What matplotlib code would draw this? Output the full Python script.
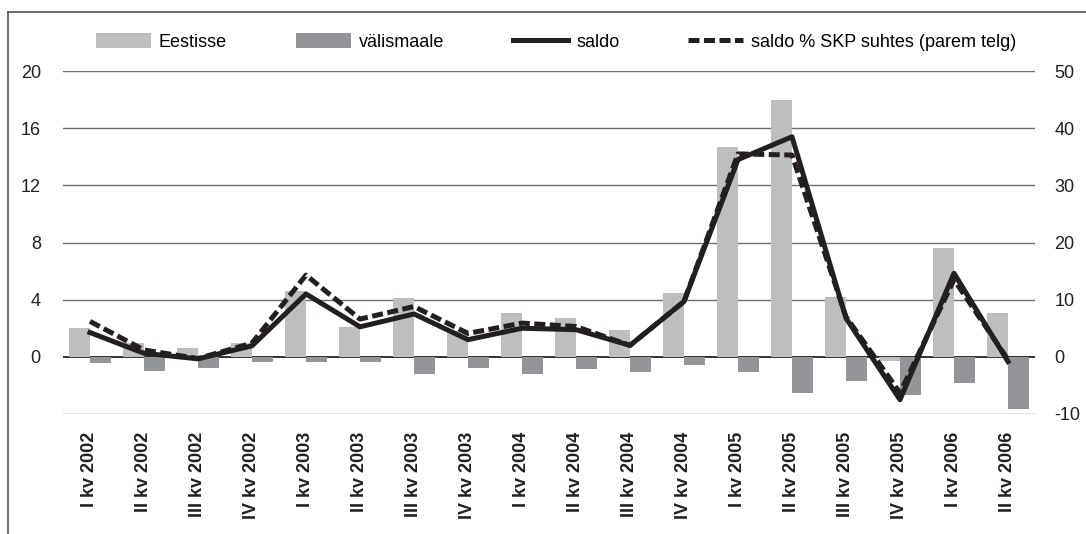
"""
Eesti ja välismaa otseinvesteeringud kvartalite kaupa + saldo.
"""

import numpy as np
import matplotlib.pyplot as plt
from matplotlib.lines import Line2D

plt.rcParams["font.family"] = ["Liberation Sans", "DejaVu Sans"]
plt.rcParams["axes.unicode_minus"] = False

quarters = [
    "I kv 2002", "II kv 2002", "III kv 2002", "IV kv 2002",
    "I kv 2003", "II kv 2003", "III kv 2003", "IV kv 2003",
    "I kv 2004", "II kv 2004", "III kv 2004", "IV kv 2004",
    "I kv 2005", "II kv 2005", "III kv 2005", "IV kv 2005",
    "I kv 2006", "II kv 2006",
]
eestisse = [2.0, 1.0, 0.6, 1.0, 4.6, 2.1, 4.1, 1.8, 3.1, 2.7, 1.9, 4.5,
            14.7, 18.0, 4.2, -0.3, 7.6, 3.1]
valismaale = [-0.45, -1.0, -0.75, -0.33, -0.33, -0.33, -1.17, -0.75, -1.17,
              -0.87, -1.03, -0.6, -1.03, -2.54, -1.72, -2.68, -1.86, -3.66]
saldo = [1.7, 0.25, -0.14, 0.77, 4.4, 2.1, 3.0, 1.2, 2.0, 1.9, 0.8, 3.87,
         13.8, 15.4, 2.7, -3.0, 5.85, -0.33]
saldo_skp = [6.2, 1.2, -0.3, 2.4, 14.3, 6.6, 8.8, 4.1, 5.9, 5.3, 2.0, 9.7,
             35.5, 35.3, 7.0, -6.3, 13.5, -0.5]

left_ticks = [0, 4, 8, 12, 16, 20]
right_ticks = [-10, 0, 10, 20, 30, 40, 50]

C_LIGHT = "#bcbec0"
C_DARK = "#939598"
C_LINE = "#231f20"
FS = 13

fig = plt.figure(figsize=(10.86, 5.34), dpi=100)
rect = [63 / 1086, 1 - 414 / 534, (1035 - 63) / 1086, (414 - 71) / 534]
ax = fig.add_axes(rect)
x = np.arange(len(quarters))
w = 0.39

ax.bar(x - w / 2, eestisse, width=w, color=C_LIGHT, zorder=2, label="Eestisse")
ax.bar(x + w / 2, valismaale, width=w, color=C_DARK, zorder=2, label="välismaale")

ax.set_xlim(-0.5, len(quarters) - 0.5)
ax.set_ylim(-4, 20)
ax.set_yticks([-4] + left_ticks)
ax.set_yticklabels([""] + [str(t) for t in left_ticks])
for yv in [-4] + left_ticks:
    if yv == 0:
        ax.axhline(yv, color="#333333", lw=1.4, zorder=1)
    else:
        ax.axhline(yv, color="#6d6d6d", lw=1.0, zorder=1)
ax.set_xticks(x)
ax.set_xticklabels(quarters, rotation=90, fontweight="bold", fontsize=FS,
                   va="top", ha="center")
ax.tick_params(axis="both", length=0, labelsize=FS, colors="#231f20")
ax.tick_params(axis="x", pad=13)
ax.tick_params(axis="y", pad=16)
for s in ax.spines.values():
    s.set_visible(False)

# parem telg: saldo % SKP suhtes
ax2 = ax.twinx()
ax2.set_ylim(-10, 50)
ax2.set_yticks(right_ticks)
ax2.tick_params(axis="y", length=0, labelsize=FS, pad=14, colors="#231f20")
for s in ax2.spines.values():
    s.set_visible(False)
dash, = ax2.plot(x, saldo_skp, color=C_LINE, lw=3.6, linestyle=(0, (2.2, 0.9)),
                 label="saldo % SKP suhtes (parem telg)")

# saldo ülemisele kihile, vasaku telje skaalaga
ax3 = fig.add_axes(rect, sharex=ax, sharey=ax)
ax3.patch.set_visible(False)
ax3.axis("off")
sol, = ax3.plot(x, saldo, color=C_LINE, lw=3.6, label="saldo")

h1, l1 = ax.get_legend_handles_labels()
fig.legend(h1 + [sol, dash], l1 + ["saldo", "saldo % SKP suhtes (parem telg)"],
           loc="center", bbox_to_anchor=(556 / 1086, 1 - 42 / 534), ncol=4,
           frameon=False, fontsize=FS, handlelength=3.05, handleheight=0.85,
           handletextpad=0.45, columnspacing=3.8)

# raam
fig.add_artist(Line2D([8 / 1086, 8 / 1086], [0, 1 - 12 / 534], color="#555555", lw=1.2))
fig.add_artist(Line2D([8 / 1086, 1], [1 - 12 / 534, 1 - 12 / 534], color="#555555", lw=1.2))

fig.savefig("out.png", dpi=100)
